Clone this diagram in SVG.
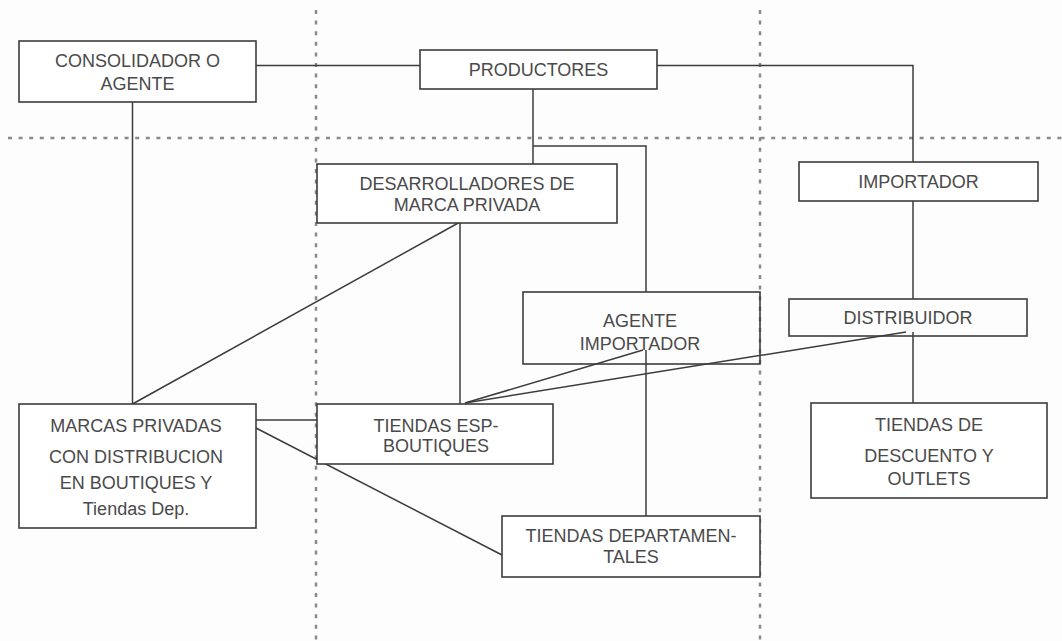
<svg xmlns="http://www.w3.org/2000/svg" width="1062" height="641" viewBox="0 0 1062 641">
<style>
.bg{fill:#fdfdfd}
.grid{stroke:#8a8a8a;stroke-width:2.5;stroke-dasharray:4 6.6;fill:none}
.box{fill:#ffffff;stroke:#3c3c3c;stroke-width:1.6}
.ln{stroke:#3c3c3c;stroke-width:1.5;fill:none}
text{font-family:"Liberation Sans",Arial,sans-serif;font-size:18px;fill:#4a4a4a;text-anchor:middle}
</style>
<rect class="bg" x="0" y="0" width="1062" height="641"/>
<g id="grid">
<line class="grid" x1="8" y1="138" x2="1062" y2="138"/>
<line class="grid" x1="316" y1="10" x2="316" y2="641"/>
<line class="grid" x1="760" y1="10" x2="760" y2="641"/>
</g>
<g id="connectors">
<polyline class="ln" points="256,65.5 420,65.5"/>
<polyline class="ln" points="657,65.5 913,65.5 913,162"/>
<polyline class="ln" points="533,89 533,164"/>
<polyline class="ln" points="533,146 646,146 646,292"/>
<polyline class="ln" points="132.5,102 132.5,404"/>
<polyline class="ln" points="460,222 460,404"/>
<polyline class="ln" points="460,222 132.5,404"/>
<polyline class="ln" points="913,201 913,299"/>
<polyline class="ln" points="913,332 913,403"/>
<polyline class="ln" points="646,350 646,516"/>
<polyline class="ln" points="465,403 643,350"/>
<polyline class="ln" points="465,403 906,332"/>
<polyline class="ln" points="256,420 317,420"/>
<polyline class="ln" points="256,428 502,555"/>
</g>
<g id="consolidador">
<rect class="box" x="19" y="41" width="237" height="61"/>
<text x="137.5" y="67">CONSOLIDADOR O</text>
<text x="137.5" y="90">AGENTE</text>
</g>
<g id="productores">
<rect class="box" x="420" y="50" width="237" height="39"/>
<text x="538.5" y="76">PRODUCTORES</text>
</g>
<g id="desarrolladores">
<rect class="box" x="317" y="164" width="300" height="59"/>
<text x="467" y="190">DESARROLLADORES DE</text>
<text x="467" y="211">MARCA PRIVADA</text>
</g>
<g id="importador">
<rect class="box" x="799" y="162" width="239" height="39"/>
<text x="918.5" y="188">IMPORTADOR</text>
</g>
<g id="agente-importador">
<rect class="box" x="523" y="292" width="237" height="72" style="fill:none"/>
<text x="640" y="327">AGENTE</text>
<text x="640" y="350">IMPORTADOR</text>
</g>
<g id="distribuidor">
<rect class="box" x="789" y="299" width="238" height="37" style="fill:none"/>
<text x="908" y="324">DISTRIBUIDOR</text>
</g>
<g id="marcas-privadas">
<rect class="box" x="19" y="404" width="237" height="124"/>
<text x="136" y="432">MARCAS PRIVADAS</text>
<text x="136" y="463">CON DISTRIBUCION</text>
<text x="136" y="489">EN BOUTIQUES Y</text>
<text x="136" y="515">Tiendas Dep.</text>
</g>
<g id="tiendas-esp">
<rect class="box" x="317" y="404" width="236" height="60"/>
<text x="436" y="432">TIENDAS ESP-</text>
<text x="436" y="452">BOUTIQUES</text>
</g>
<g id="tiendas-descuento">
<rect class="box" x="811" y="403" width="236" height="95"/>
<text x="929" y="431">TIENDAS DE</text>
<text x="929" y="462">DESCUENTO Y</text>
<text x="929" y="485">OUTLETS</text>
</g>
<g id="tiendas-departamentales">
<rect class="box" x="502" y="516" width="258" height="61"/>
<text x="631" y="542">TIENDAS DEPARTAMEN-</text>
<text x="631" y="563">TALES</text>
</g>
</svg>
